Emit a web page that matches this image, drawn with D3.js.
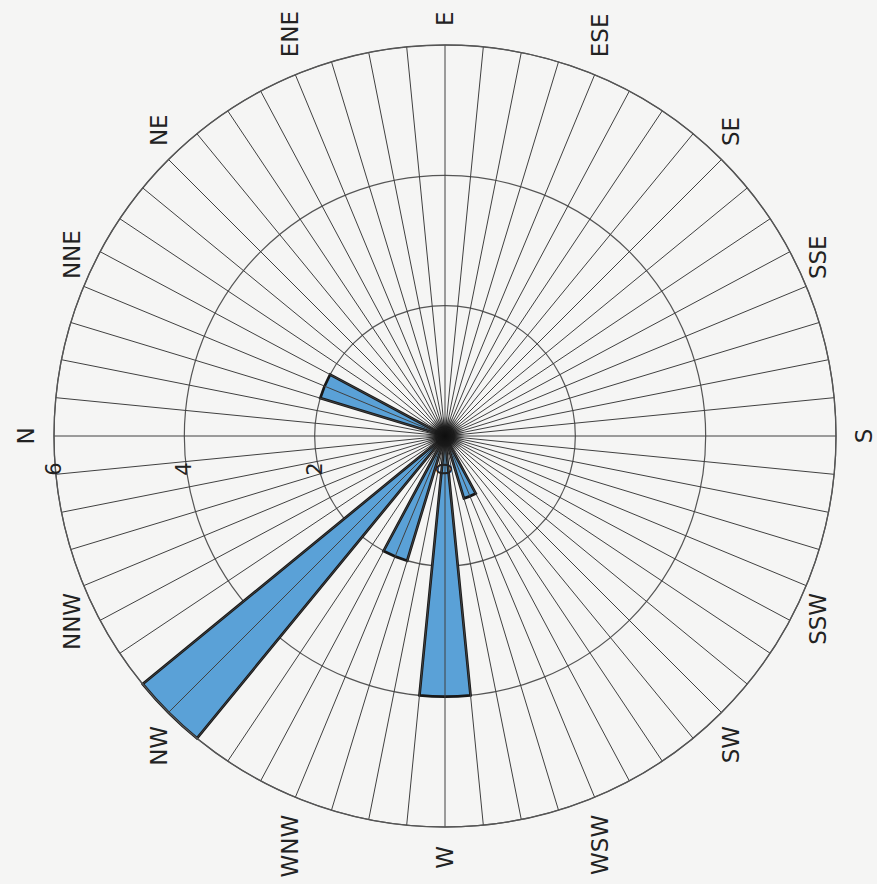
<!DOCTYPE html>
<html>
<head>
<meta charset="utf-8">
<script src="https://cdn.jsdelivr.net/npm/d3@7"></script>
<style>
  html, body { margin: 0; padding: 0; background: #f5f5f4; }
  svg { display: block; }
</style>
</head>
<body>
<svg id="chart" width="877" height="884"></svg>
<script>
// Wind directions (16-point compass) and the frequency in each direction
const directions = ["N", "NNE", "NE", "ENE", "E", "ESE", "SE", "SSE",
                    "S", "SSW", "SW", "WSW", "W", "WNW", "NW", "NNW"];
const frequencies = [0, 2, 0, 0, 0, 0, 0, 0, 0, 0, 0, 1, 4, 2, 6, 0];
const radialTicks = [0, 2, 4, 6];
const spokeCount = 64;

const width = 877, height = 884;
const cx = 445, cy = 436, R = 391;

const svg = d3.select("#chart");
const defs = svg.append("defs");
const hub = defs.append("radialGradient").attr("id", "hub");
hub.append("stop").attr("offset", "0%").attr("stop-color", "#0e0e0e").attr("stop-opacity", 1);
hub.append("stop").attr("offset", "50%").attr("stop-color", "#161616").attr("stop-opacity", 0.9);
hub.append("stop").attr("offset", "100%").attr("stop-color", "#333").attr("stop-opacity", 0);

svg.append("rect").attr("width", width).attr("height", height).attr("fill", "#f5f5f4");

// The whole rose is turned a quarter turn anticlockwise (north on the left)
const g = svg.append("g").attr("transform", `translate(${cx},${cy}) rotate(-90)`);

const r = d3.scaleLinear().domain([0, 6]).range([0, R]);
const angle = d3.scaleLinear().domain([0, directions.length]).range([0, 2 * Math.PI]);
// each petal covers half of the spacing between compass points
const petalWidth = Math.PI / directions.length;

const data = directions.map((d, i) => ({ dir: d, i, value: frequencies[i] }));

// range rings
g.append("g").selectAll("circle")
  .data(radialTicks.filter(t => t > 0))
  .join("circle")
  .attr("r", d => r(d))
  .attr("fill", "none")
  .attr("stroke", "#555")
  .attr("stroke-width", 1.2);

// petals
const arc = d3.arc()
  .innerRadius(0)
  .outerRadius(d => r(d.value))
  .startAngle(d => angle(d.i) - petalWidth / 2)
  .endAngle(d => angle(d.i) + petalWidth / 2);

g.append("g").selectAll("path")
  .data(data.filter(d => d.value > 0))
  .join("path")
  .attr("d", arc)
  .attr("fill", "#5aa1d7")
  .attr("stroke", "#181818")
  .attr("stroke-width", 2.7)
  .attr("stroke-linejoin", "miter");

// spokes
const spokeAngle = d3.scaleLinear().domain([0, spokeCount]).range([0, 2 * Math.PI]);
g.append("g").selectAll("line")
  .data(d3.range(spokeCount))
  .join("line")
  .attr("x1", 0).attr("y1", 0)
  .attr("x2", d => R * Math.sin(spokeAngle(d)))
  .attr("y2", d => -R * Math.cos(spokeAngle(d)))
  .attr("stroke", "#404040")
  .attr("stroke-width", 1);

// dense hub where the spokes meet
g.append("circle").attr("r", 20).attr("fill", "url(#hub)");

// outer ring
g.append("circle").attr("r", R).attr("fill", "none")
  .attr("stroke", "#555").attr("stroke-width", 1.3);

// compass labels: pushed outward from the rim, start/end anchored by side
const labelR = R + 19;
g.append("g").selectAll("text")
  .data(data)
  .join("text")
  .each(function(d) {
    const a = angle(d.i), s = Math.sin(a), c = Math.cos(a);
    const side = Math.abs(s) < 0.01 ? 0 : Math.sign(s);
    const t = d3.select(this);
    if (side === 0) {
      t.attr("x", 0).attr("y", -(labelR + 9) * c).attr("text-anchor", "middle");
    } else {
      t.attr("x", labelR * s)
       .attr("y", -labelR * c + 6 * c)
       .attr("text-anchor", side > 0 ? "start" : "end");
    }
  })
  .attr("dominant-baseline", "central")
  .attr("font-family", "'DejaVu Sans', sans-serif")
  .attr("font-size", 23)
  .attr("fill", "#222")
  .text(d => d.dir);

// radial tick labels
g.append("g").selectAll("text")
  .data(radialTicks)
  .join("text")
  .attr("x", -33)
  .attr("y", d => -r(d))
  .attr("text-anchor", "middle")
  .attr("dominant-baseline", "central")
  .attr("font-family", "'DejaVu Sans', sans-serif")
  .attr("font-size", 21)
  .attr("fill", "#222")
  .text(d => d);
</script>
</body>
</html>
